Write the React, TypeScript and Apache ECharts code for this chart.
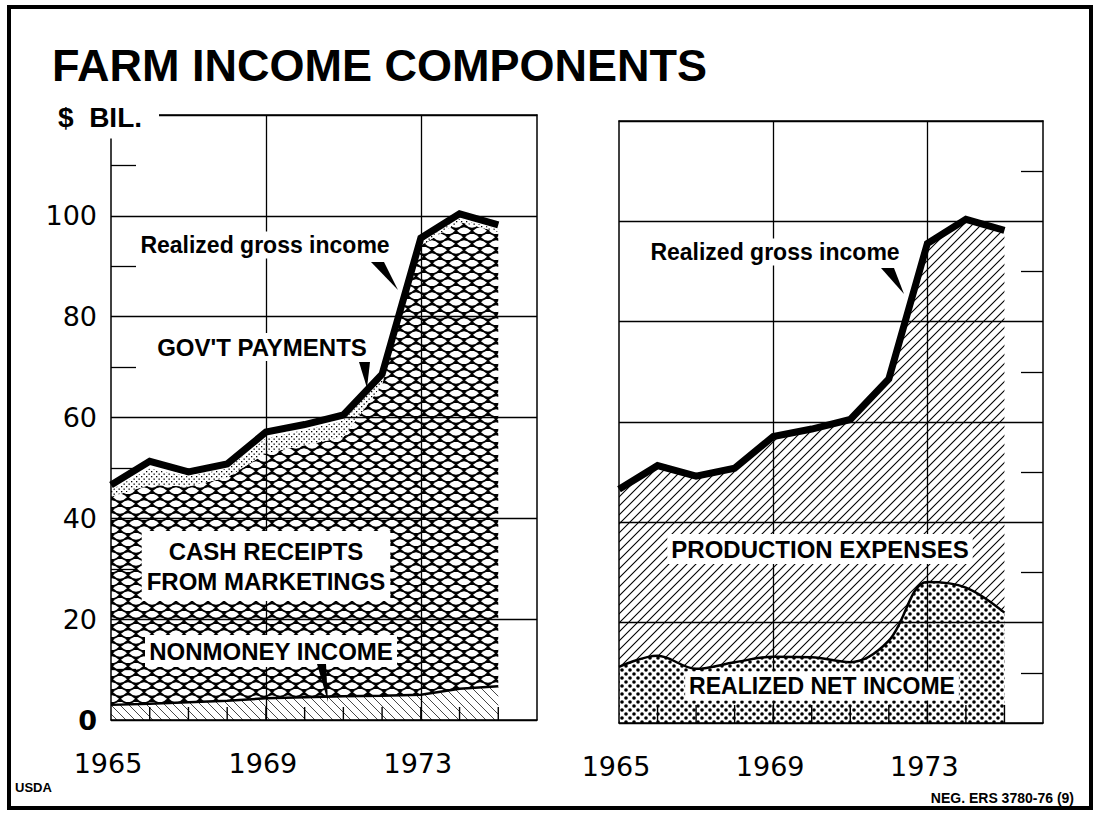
import React, { useEffect, useRef } from 'react';
import * as echarts from 'echarts';

// ---------- data ($ billion) ----------
const years = ['1965', '1966', '1967', '1968', '1969', '1970', '1971', '1972', '1973', '1974', '1975', '1976'];
const nonmoneyIncome = [3.0, 3.2, 3.5, 3.8, 4.3, 4.5, 4.7, 4.8, 5.0, 6.2, 6.7];
const cashReceipts = [41.3, 43.4, 42.8, 44.3, 48.6, 50.0, 51.4, 61.7, 89.1, 92.6, 90.1];
const govtPayments = [1.3, 3.3, 2.0, 1.8, 3.0, 3.0, 3.3, 1.2, 0.8, 0.6, 0.5];
const realizedGross = [46.6, 51.3, 49.2, 50.8, 57.1, 58.6, 60.5, 68.6, 95.6, 100.4, 98.2];
const realizedNet = [11.2, 13.4, 10.8, 12.1, 13.2, 13.1, 12.1, 16.4, 28.1, 27.0, 22.0];
const yLabelValues = [0, 20, 40, 60, 80, 100];
const yearLabels = ['1965', '1969', '1973'];
const yearTickMarks = ['1966', '1967', '1968', '1969', '1970', '1971', '1972', '1973', '1974', '1975'];

const NUM_FONT = 'DejaVu Sans';
const TXT_FONT = 'Liberation Sans';

function makePattern(w: number, h: number, draw: (ctx: CanvasRenderingContext2D) => void) {
  const c = document.createElement('canvas');
  c.width = w;
  c.height = h;
  const ctx = c.getContext('2d')!;
  ctx.fillStyle = '#fff';
  ctx.fillRect(0, 0, w, h);
  draw(ctx);
  return { image: c, repeat: 'repeat', imageWidth: w, imageHeight: h } as any;
}

export default function App() {
  const ref = useRef<HTMLDivElement>(null);

  useEffect(() => {
    if (!ref.current) return;
    const chart = echarts.init(ref.current, undefined, { renderer: 'svg' });

    const mesh = makePattern(16, 13, (ctx) => {
      ctx.fillStyle = '#000';
      ctx.fillRect(0, 0, 16, 13);
      ctx.fillStyle = '#fff';
      const lens = (cx: number, cy: number) => {
        ctx.beginPath();
        ctx.moveTo(cx - 7, cy);
        ctx.quadraticCurveTo(cx, cy - 7, cx + 7, cy);
        ctx.quadraticCurveTo(cx, cy + 7, cx - 7, cy);
        ctx.closePath();
        ctx.fill();
      };
      lens(8, 3.25);
      lens(0, 9.75);
      lens(16, 9.75);
    });
    const stipple = makePattern(5, 5, (ctx) => {
      ctx.fillStyle = '#000';
      ctx.fillRect(1, 1, 1.3, 1.3);
      ctx.fillRect(3.5, 3.5, 1.3, 1.3);
    });
    const backHatch = makePattern(9, 9, (ctx) => {
      ctx.strokeStyle = '#333';
      ctx.lineWidth = 0.9;
      ctx.beginPath();
      ctx.moveTo(-1, -1); ctx.lineTo(10, 10);
      ctx.moveTo(-1, 8); ctx.lineTo(1, 10);
      ctx.moveTo(8, -1); ctx.lineTo(10, 1);
      ctx.stroke();
    });
    const fwdHatch = makePattern(9, 9, (ctx) => {
      ctx.strokeStyle = '#000';
      ctx.lineWidth = 1.1;
      ctx.beginPath();
      ctx.moveTo(-1, 10); ctx.lineTo(10, -1);
      ctx.moveTo(-1, 1); ctx.lineTo(1, -1);
      ctx.moveTo(8, 10); ctx.lineTo(10, 8);
      ctx.stroke();
    });
    const bigDots = makePattern(8, 8, (ctx) => {
      ctx.fillStyle = '#000';
      ctx.beginPath();
      ctx.arc(2, 2, 1.8, 0, Math.PI * 2);
      ctx.fill();
      ctx.beginPath();
      ctx.arc(6, 6, 1.8, 0, Math.PI * 2);
      ctx.fill();
    });

    const black = { color: '#000', width: 1.5 };
    const showYear = (i: number) => yearLabels.indexOf(years[i]) >= 0;
    const gridLineYear = (i: number) => showYear(i) && i > 0;

    const bottomX = (gridIndex: number) => ({
      gridIndex,
      type: 'category',
      data: years,
      boundaryGap: false,
      position: 'bottom',
      z: 5,
      axisLine: { show: true, lineStyle: black },
      axisTick: { show: false },
      axisLabel: {
        interval: (i: number) => showYear(i),
        margin: 30,
        fontSize: 27,
        fontFamily: NUM_FONT,
        color: '#000',
        padding: [0, 6, 0, 0],
      },
      splitLine: { show: true, interval: (i: number) => gridLineYear(i), lineStyle: { color: '#000', width: 1.3 } },
    });
    const topX = (gridIndex: number) => ({
      gridIndex,
      type: 'category',
      data: years,
      boundaryGap: false,
      position: 'top',
      z: 5,
      axisLine: { show: true, onZero: false, lineStyle: black },
      axisTick: { show: false },
      axisLabel: { show: false },
      splitLine: { show: false },
    });
    const yBase = (gridIndex: number, position: string) => ({
      gridIndex,
      type: 'value',
      min: 0,
      max: 120,
      interval: 20,
      position,
      z: 5,
      axisLine: { show: true, onZero: false, lineStyle: black },
      axisTick: { show: false, inside: true },
      axisLabel: { show: false },
      splitLine: { show: false },
    });

    const yearTickSeries = (xAxisIndex: number, yAxisIndex: number, len: number) => ({
      type: 'custom',
      xAxisIndex,
      yAxisIndex,
      z: 4,
      silent: true,
      data: yearTickMarks.map((y) => [y, 0]),
      renderItem: (_params: any, api: any) => {
        const p = api.coord([api.value(0), 0]);
        return {
          type: 'line',
          shape: { x1: p[0], y1: p[1], x2: p[0], y2: p[1] - len },
          style: { stroke: '#000', lineWidth: 1.4 },
        };
      },
    });

    const option: any = {
      animation: false,
      backgroundColor: '#fff',
      grid: [
        { left: 111, top: 115, width: 426, height: 605 },
        { left: 619, top: 121, width: 424, height: 602 },
      ],
      xAxis: [bottomX(0), topX(0), bottomX(1), topX(1)],
      yAxis: [
        {
          ...yBase(0, 'left'),
          minorTick: { show: true, splitNumber: 2, length: 25, lineStyle: { color: '#000', width: 1.3 } },
          axisLabel: {
            show: true,
            margin: 14,
            fontSize: 27,
            fontFamily: NUM_FONT,
            color: '#000',
            formatter: (v: number) =>
              yLabelValues.indexOf(v) >= 0 ? (v === 0 ? '{b|0}' : String(v)) : '',
            rich: { b: { fontSize: 27, fontFamily: NUM_FONT, fontWeight: 'bold', color: '#000' } },
          },
          splitLine: { show: true, lineStyle: { color: '#000', width: 1.3 } },
        },
        yBase(0, 'right'),
        {
          ...yBase(1, 'left'),
          splitLine: { show: true, lineStyle: { color: '#000', width: 1.3 } },
        },
        {
          ...yBase(1, 'right'),
          minorTick: { show: true, splitNumber: 2, length: 22, lineStyle: { color: '#000', width: 1.3 } },
        },
      ],
      series: [
        {
          name: 'Nonmoney income',
          type: 'line',
          xAxisIndex: 0,
          yAxisIndex: 0,
          stack: 'left',
          data: nonmoneyIncome,
          symbol: 'none',
          z: 2,
          lineStyle: { color: '#000', width: 2.5 },
          areaStyle: { color: backHatch, opacity: 1 },
        },
        {
          name: 'Cash receipts from marketings',
          type: 'line',
          xAxisIndex: 0,
          yAxisIndex: 0,
          stack: 'left',
          data: cashReceipts,
          symbol: 'none',
          z: 1,
          lineStyle: { width: 0, color: '#000' },
          areaStyle: { color: mesh, opacity: 1 },
        },
        {
          name: "Gov't payments",
          type: 'line',
          xAxisIndex: 0,
          yAxisIndex: 0,
          stack: 'left',
          data: govtPayments,
          symbol: 'none',
          z: 1,
          lineStyle: { width: 0, color: '#000' },
          areaStyle: { color: stipple, opacity: 1 },
        },
        {
          name: 'Realized gross income',
          type: 'line',
          xAxisIndex: 0,
          yAxisIndex: 0,
          data: realizedGross,
          symbol: 'none',
          z: 3,
          lineStyle: { color: '#000', width: 7, join: 'miter', cap: 'butt' },
        },
        {
          name: 'Realized gross income (production expenses + net)',
          type: 'line',
          xAxisIndex: 2,
          yAxisIndex: 2,
          data: realizedGross,
          symbol: 'none',
          z: 1,
          lineStyle: { color: '#000', width: 7, join: 'miter', cap: 'butt' },
          areaStyle: { color: fwdHatch, opacity: 1 },
        },
        {
          name: 'Realized net income',
          type: 'line',
          xAxisIndex: 2,
          yAxisIndex: 2,
          data: realizedNet,
          symbol: 'none',
          smooth: 0.35,
          z: 2,
          lineStyle: { color: '#000', width: 2.5 },
          areaStyle: { color: bigDots, opacity: 1 },
        },
        yearTickSeries(0, 0, 13),
        yearTickSeries(2, 2, 18),
      ],
      graphic: [
        {
          type: 'rect',
          z: 20,
          shape: { x: 9, y: 7, width: 1082, height: 801 },
          style: { fill: 'none', stroke: '#000', lineWidth: 4 },
        },
        {
          type: 'text',
          z: 20,
          x: 52,
          y: 65,
          style: { text: 'FARM INCOME COMPONENTS', fill: '#000', font: `bold 45px "${TXT_FONT}"`, verticalAlign: 'middle' },
        },
        {
          type: 'text',
          z: 20,
          x: 52,
          y: 117,
          style: {
            text: '$  BIL.',
            fill: '#000',
            font: `bold 28px "${TXT_FONT}"`,
            verticalAlign: 'middle',
            backgroundColor: '#fff',
            padding: [6, 17, 9, 6],
          },
        },
        // left panel labels
        {
          type: 'text', z: 20, x: 265, y: 245,
          style: { text: 'Realized gross income', fill: '#000', font: `bold 23px "${TXT_FONT}"`, align: 'center', verticalAlign: 'middle', backgroundColor: '#fff', padding: [2, 3] },
        },
        {
          type: 'polygon', z: 20,
          shape: { points: [[371, 262], [384, 262], [398, 290]] },
          style: { fill: '#000' },
        },
        {
          type: 'text', z: 20, x: 262, y: 347,
          style: { text: "GOV'T PAYMENTS", fill: '#000', font: `bold 24px "${TXT_FONT}"`, align: 'center', verticalAlign: 'middle', backgroundColor: '#fff', padding: [2, 3] },
        },
        {
          type: 'polygon', z: 20,
          shape: { points: [[359, 362], [370, 362], [367, 388]] },
          style: { fill: '#000' },
        },
        {
          type: 'text', z: 20, x: 266, y: 566,
          style: { text: 'CASH RECEIPTS\nFROM MARKETINGS', fill: '#000', font: `bold 24px "${TXT_FONT}"`, lineHeight: 30, align: 'center', verticalAlign: 'middle', backgroundColor: '#fff', padding: [5, 5] },
        },
        {
          type: 'text', z: 20, x: 271, y: 651,
          style: { text: 'NONMONEY INCOME', fill: '#000', font: `bold 24px "${TXT_FONT}"`, align: 'center', verticalAlign: 'middle', backgroundColor: '#fff', padding: [4, 4] },
        },
        {
          type: 'polygon', z: 20,
          shape: { points: [[317, 664], [326, 664], [328, 702]] },
          style: { fill: '#000' },
        },
        // right panel labels
        {
          type: 'text', z: 20, x: 775, y: 252,
          style: { text: 'Realized gross income', fill: '#000', font: `bold 23px "${TXT_FONT}"`, align: 'center', verticalAlign: 'middle', backgroundColor: '#fff', padding: [2, 3] },
        },
        {
          type: 'polygon', z: 20,
          shape: { points: [[881, 268], [894, 268], [904, 294]] },
          style: { fill: '#000' },
        },
        {
          type: 'text', z: 20, x: 820, y: 549,
          style: { text: 'PRODUCTION EXPENSES', fill: '#000', font: `bold 24px "${TXT_FONT}"`, align: 'center', verticalAlign: 'middle', backgroundColor: '#fff', padding: [3, 4] },
        },
        {
          type: 'text', z: 20, x: 822, y: 686,
          style: { text: 'REALIZED NET INCOME', fill: '#000', font: `bold 23px "${TXT_FONT}"`, align: 'center', verticalAlign: 'middle', backgroundColor: '#fff', padding: [3, 4] },
        },
        // footers
        {
          type: 'text', z: 20, x: 15, y: 787,
          style: { text: 'USDA', fill: '#000', font: `bold 13px "${TXT_FONT}"`, verticalAlign: 'middle' },
        },
        {
          type: 'text', z: 20, x: 1074, y: 798,
          style: { text: 'NEG. ERS 3780-76 (9)', fill: '#000', font: `bold 14px "${TXT_FONT}"`, align: 'right', verticalAlign: 'middle' },
        },
      ],
    };

    chart.setOption(option);
    return () => chart.dispose();
  }, []);

  return (
    <div
      ref={ref}
      style={{ position: 'absolute', left: 0, top: 0, width: 1095, height: 813, background: '#fff' }}
    />
  );
}
